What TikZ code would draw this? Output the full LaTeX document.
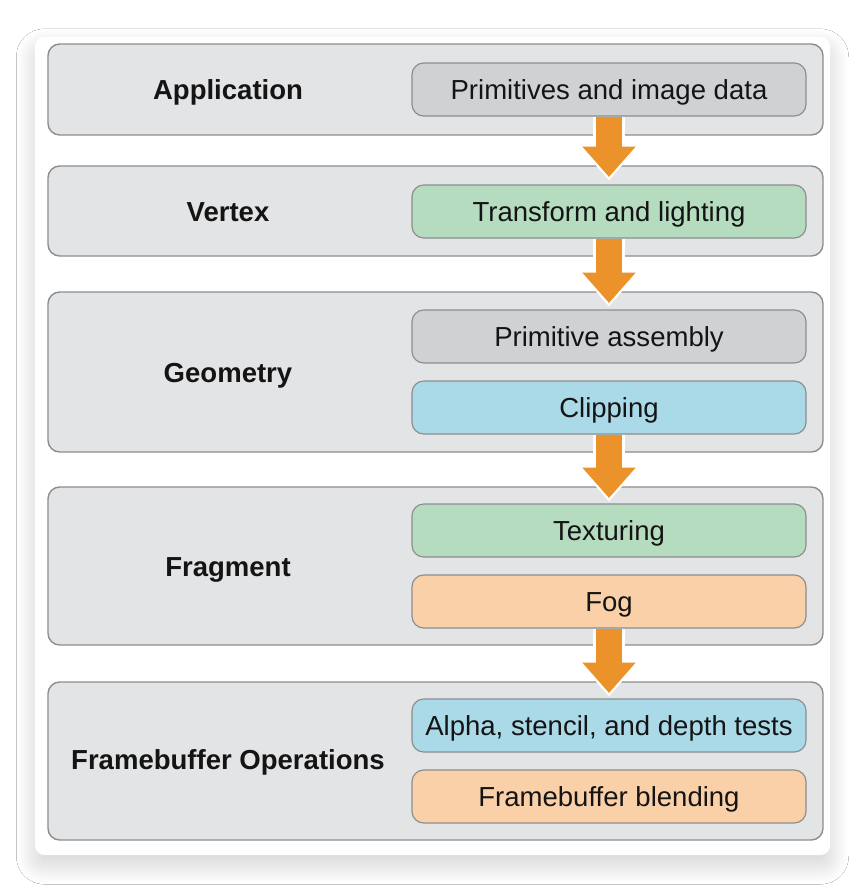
\documentclass[tikz,border=0pt]{standalone}
\usepackage{fontspec}
\setmainfont{Liberation Sans}
\usetikzlibrary{arrows.meta,shadows.blur}

\definecolor{stagegray}{HTML}{E3E4E6}
\definecolor{edgegray}{HTML}{8C8D8F}
\definecolor{boxgray}{HTML}{D0D1D3}
\definecolor{boxgreen}{HTML}{B6DCC0}
\definecolor{boxblue}{HTML}{AAD9E8}
\definecolor{boxpeach}{HTML}{FAD0A8}
\definecolor{arroworange}{HTML}{EB922B}
\definecolor{inktext}{HTML}{141414}

\tikzset{
  stage/.style={draw=edgegray, line width=1.2pt, fill=stagegray, rounded corners=10pt,
    minimum width=23.25cm, inner sep=0pt},
  stagelabel/.style={font=\fontsize{23.5}{27}\selectfont\bfseries, text=inktext,
    text height=16.8pt, text depth=0pt},
  stepbox/.style={draw=edgegray, line width=1pt, rounded corners=10pt,
    minimum width=11.82cm, minimum height=1.59cm, inner sep=0pt,
    font=\fontsize{23.5}{27}\selectfont, text=inktext,
    text height=16.8pt, text depth=0pt},
  flowarrow/.style={arroworange, line width=23pt,
    -{Triangle[width=44pt,length=26pt]}, shorten >=-10pt,
    preaction={draw=white, line width=28pt,
      -{Triangle[width=52pt,length=31pt]}, shorten >=-13pt}}
}

\begin{document}
\begin{tikzpicture}[x=0.03cm, y=-0.03cm]
\useasboundingbox (0,0) rectangle (866,890);
\fill[white] (0,0) rectangle (866,890);

% card
\fill[white, rounded corners=8pt,
  blur shadow={shadow xshift=0pt, shadow yshift=-9pt, shadow blur radius=16pt,
    shadow blur steps=24, shadow opacity=18}]
  (35,37) rectangle (830,855);

% -------- stages -----------
\node[stage, minimum height=2.73cm] (app)  at (435.5, 89.5) {};
\node[stage, minimum height=2.70cm] (vtx)  at (435.5, 211)  {};
\node[stage, minimum height=4.80cm] (geo)  at (435.5, 372)  {};
\node[stage, minimum height=4.74cm] (frag) at (435.5, 566)  {};
\node[stage, minimum height=4.74cm] (fbo)  at (435.5, 761)  {};

\node[stagelabel] (applbl)  at (228, 89.5) {Application};
\node[stagelabel] (vtxlbl)  at (228, 212)  {Vertex};
\node[stagelabel] (geolbl)  at (228, 373)  {Geometry};
\node[stagelabel] (fraglbl) at (228, 567)  {Fragment};
\node[stagelabel] (fbolbl)  at (228, 760)  {Framebuffer Operations};

% -------- steps -----------
\node[stepbox, fill=boxgray]  (primdata) at (609, 89.5)  {Primitives and image data};
\node[stepbox, fill=boxgreen] (xform)    at (609, 211.5) {Transform and lighting};
\node[stepbox, fill=boxgray]  (primasm)  at (609, 336.5) {Primitive assembly};
\node[stepbox, fill=boxblue]  (clip)     at (609, 407.5) {Clipping};
\node[stepbox, fill=boxgreen] (tex)      at (609, 530.5) {Texturing};
\node[stepbox, fill=boxpeach] (fog)      at (609, 601.5) {Fog};
\node[stepbox, fill=boxblue]  (tests)    at (609, 725.5) {Alpha, stencil, and depth tests};
\node[stepbox, fill=boxpeach] (blend)    at (609, 796.5) {Framebuffer blending};

% -------- arrows -----------
\draw[flowarrow] (primdata.south) -- (primdata.south |- vtx.north);
\draw[flowarrow] (xform.south) -- (xform.south |- geo.north);
\draw[flowarrow] (clip.south) -- (clip.south |- frag.north);
\draw[flowarrow] (fog.south) -- (fog.south |- fbo.north);

\end{tikzpicture}
\end{document}
